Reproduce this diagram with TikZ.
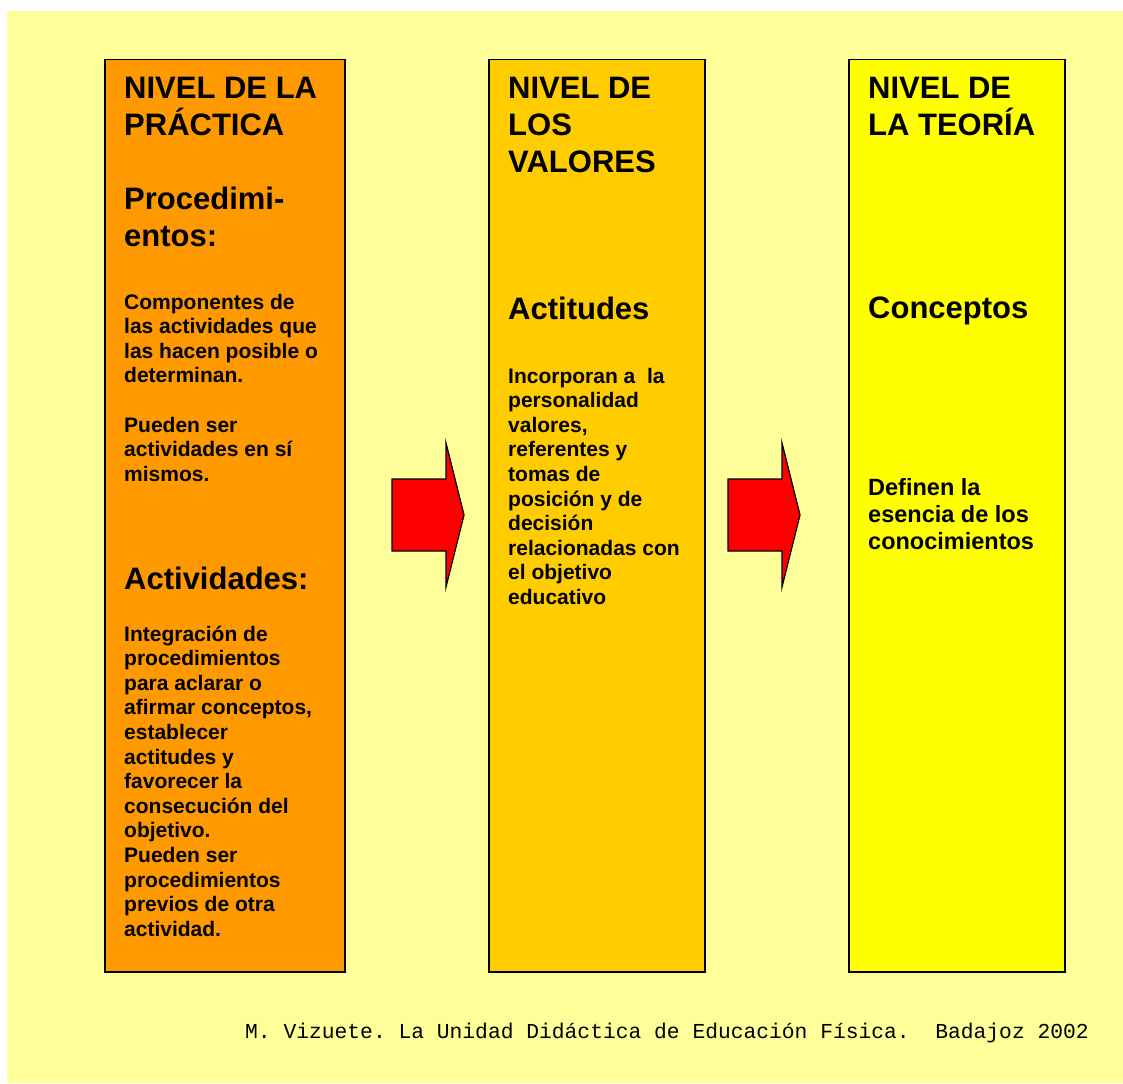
\documentclass[tikz,border=0pt]{standalone}
\usepackage{fontspec}
\setmainfont{Liberation Sans}
\setmonofont{Liberation Mono}
\usetikzlibrary{positioning}
\definecolor{fondo}{HTML}{FFFF99}
\definecolor{practica}{HTML}{FF9900}
\definecolor{valores}{HTML}{FFCC00}
\definecolor{teoria}{HTML}{FFFF00}
\definecolor{flecha}{HTML}{FF0000}
% bloque de texto alineado por la linea base de su primera linea
\newcommand{\bloque}[1]{\parbox[t]{215pt}{\raggedright #1}}

\begin{document}
\begin{tikzpicture}[x=1pt, y=-1pt,
    nivel/.style={draw, line width=1.5pt, anchor=north west, inner sep=0pt,
      minimum width=216pt, minimum height=912pt},
    titulo/.style={anchor=base west, inner sep=0pt,
      font=\bfseries\fontsize{31}{37}\selectfont},
    texto/.style={anchor=base west, inner sep=0pt,
      font=\bfseries\fontsize{21}{24.6}\selectfont},
    flechabox/.style={draw, line width=1.2pt, fill=flecha, line join=miter},
  ]
  \useasboundingbox (0,0) rectangle (1123,1083);
  \fill[fondo] (7,11) rectangle (1123,1083);

  % los tres niveles
  \node[nivel, fill=practica, minimum width=240pt] (practica) at (104,59) {};
  \node[nivel, fill=valores] (valores) at (488,59) {};
  \node[nivel, fill=teoria] (teoria) at (848,59) {};

  % nivel de la practica
  \node[titulo] (tpractica) at (124,99) {\bloque{NIVEL DE LA\\PRÁCTICA}};
  \node[titulo] (procedimientos) at (124,210) {\bloque{Procedimi-\\entos:}};
  \node[texto] (componentes) at (124,309)
    {\bloque{Componentes de\\las actividades que\\las hacen posible o\\determinan.\\[24.6pt]
     Pueden ser\\actividades en sí\\mismos.}};
  \node[titulo] (actividades) at (124,589) {\bloque{Actividades:}};
  \node[texto] (integracion) at (124,641)
    {\bloque{Integración de\\procedimientos\\para aclarar o\\afirmar conceptos,\\establecer\\actitudes y\\
     favorecer la\\consecución del\\objetivo.\\Pueden ser\\procedimientos\\previos de otra\\actividad.}};

  % nivel de los valores
  \node[titulo] (tvalores) at (508,99) {\bloque{NIVEL DE\\LOS\\VALORES}};
  \node[titulo] (actitudes) at (508,319) {\bloque{Actitudes}};
  \node[texto] (incorporan) at (508,383)
    {\bloque{Incorporan a~ la\\personalidad\\valores,\\referentes y\\tomas de\\posición y de\\decisión\\
     relacionadas con\\el objetivo\\educativo}};

  % nivel de la teoria
  \node[titulo] (tteoria) at (868,99) {\bloque{NIVEL DE\\LA TEORÍA}};
  \node[titulo] (conceptos) at (868,318) {\bloque{Conceptos}};
  \node[texto, font=\bfseries\fontsize{23.5}{27}\selectfont] (definen) at (868,495)
    {\bloque{Definen la\\esencia de los\\conocimientos}};

  % flechas
  \foreach \x in {392,728}
    \draw[flechabox] (\x,479) -- (\x+54,479) -- (\x+54,443) -- (\x+72,515)
      -- (\x+54,587) -- (\x+54,551) -- (\x,551) -- cycle;

  \node[anchor=base west, inner sep=0pt,
    font=\ttfamily\frenchspacing\fontsize{21.3}{25}\selectfont] (fuente) at (245,1038)
    {M. Vizuete. La Unidad Didáctica de Educación Física.\ \ Badajoz 2002};
\end{tikzpicture}
\end{document}
